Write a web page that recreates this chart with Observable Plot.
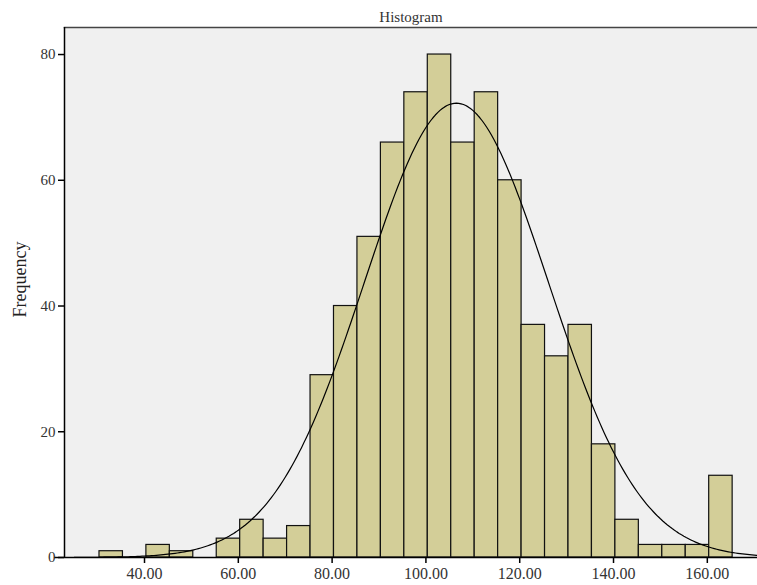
<!DOCTYPE html>
<html>
<head>
<meta charset="utf-8">
<script src="https://cdn.jsdelivr.net/npm/d3@7"></script>
<script src="https://cdn.jsdelivr.net/npm/@observablehq/plot@0.6"></script>
<style>
  html, body { margin: 0; padding: 0; background: #ffffff; }
  #chart svg { display: block; }
</style>
</head>
<body>
<div id="chart"></div>
<script>
// Bin edges (lower and upper) and counts
const binLow  = [30.4, 35.4, 40.4, 45.4, 50.4, 55.4, 60.4, 65.4, 70.4, 75.4, 80.4, 85.4, 90.4, 95.4, 100.4, 105.4, 110.4, 115.4, 120.4, 125.4, 130.4, 135.4, 140.4, 145.4, 150.4, 155.4, 160.4];
const binHigh = [35.4, 40.4, 45.4, 50.4, 55.4, 60.4, 65.4, 70.4, 75.4, 80.4, 85.4, 90.4, 95.4, 100.4, 105.4, 110.4, 115.4, 120.4, 125.4, 130.4, 135.4, 140.4, 145.4, 150.4, 155.4, 160.4, 165.4];
const counts  = [1, 0, 2, 1, 0, 3, 6, 3, 5, 29, 40, 51, 66, 74, 80, 66, 74, 60, 37, 32, 37, 18, 6, 2, 2, 2, 13];

// Fitted normal curve parameters
const fitMean = 106.5;
const fitSD = 19.6;
const binWidth = 5;

const xTicks = [40, 60, 80, 100, 120, 140, 160];
const yTicks = [0, 20, 40, 60, 80];
const titleText = "Histogram";
const yLabel = "Frequency";

const bins = counts.map((c, i) => ({x1: binLow[i], x2: binHigh[i], count: c})).filter(d => d.count > 0);
const N = d3.sum(counts);
const xs = d3.range(25, 171.01, 0.5);
const curve = xs.map(x => ({
  x,
  y: N * binWidth / (fitSD * Math.sqrt(2 * Math.PI)) * Math.exp(-0.5 * ((x - fitMean) / fitSD) ** 2)
}));

const font = "'Liberation Serif', 'DejaVu Serif', serif";

const chart = Plot.plot({
  width: 757,
  height: 585,
  marginLeft: 64,
  marginRight: 0,
  marginTop: 27,
  marginBottom: 28,
  style: {fontFamily: font, fontSize: "15px", color: "#222", background: "#ffffff"},
  x: {domain: [22.94, 170.7]},
  y: {domain: [0, 84.3]},
  marks: [
    Plot.frame({fill: "#f0f0f0", stroke: "none"}),
    Plot.frame({anchor: "top", stroke: "#444", strokeWidth: 1.5}),
    Plot.rectY(bins, {x1: "x1", x2: "x2", y: "count", fill: "#d3ce98", stroke: "#111", strokeWidth: 1.2}),
    Plot.line(curve, {x: "x", y: "y", stroke: "#000", strokeWidth: 1.2, clip: true}),
    Plot.ruleX([22.94], {stroke: "#000", strokeWidth: 1.5}),
    Plot.ruleY([0], {stroke: "#000", strokeWidth: 1.5, x1: 20.8, x2: 170.7, clip: false}),
    Plot.axisX({ticks: xTicks, tickFormat: d => d.toFixed(2), tickSize: 6, tickPadding: 4, label: null, stroke: "#000", strokeWidth: 1.5, fill: "#333", fontSize: 16}),
    Plot.axisY({ticks: yTicks, tickFormat: d => String(d), tickSize: 6, tickPadding: 3, label: null, stroke: "#000", strokeWidth: 1.5, fill: "#333", fontSize: 15}),
    Plot.text([titleText], {frameAnchor: "top", lineAnchor: "middle", dy: -10, fontSize: 15, fill: "#333", text: d => d}),
    Plot.text([yLabel], {frameAnchor: "left", textAnchor: "middle", lineAnchor: "middle", dx: -44, dy: -13, rotate: -90, fontSize: 18, fill: "#222", text: d => d, style: "letter-spacing: 0.5px"})
  ]
});
document.getElementById("chart").appendChild(chart);
</script>
</body>
</html>
